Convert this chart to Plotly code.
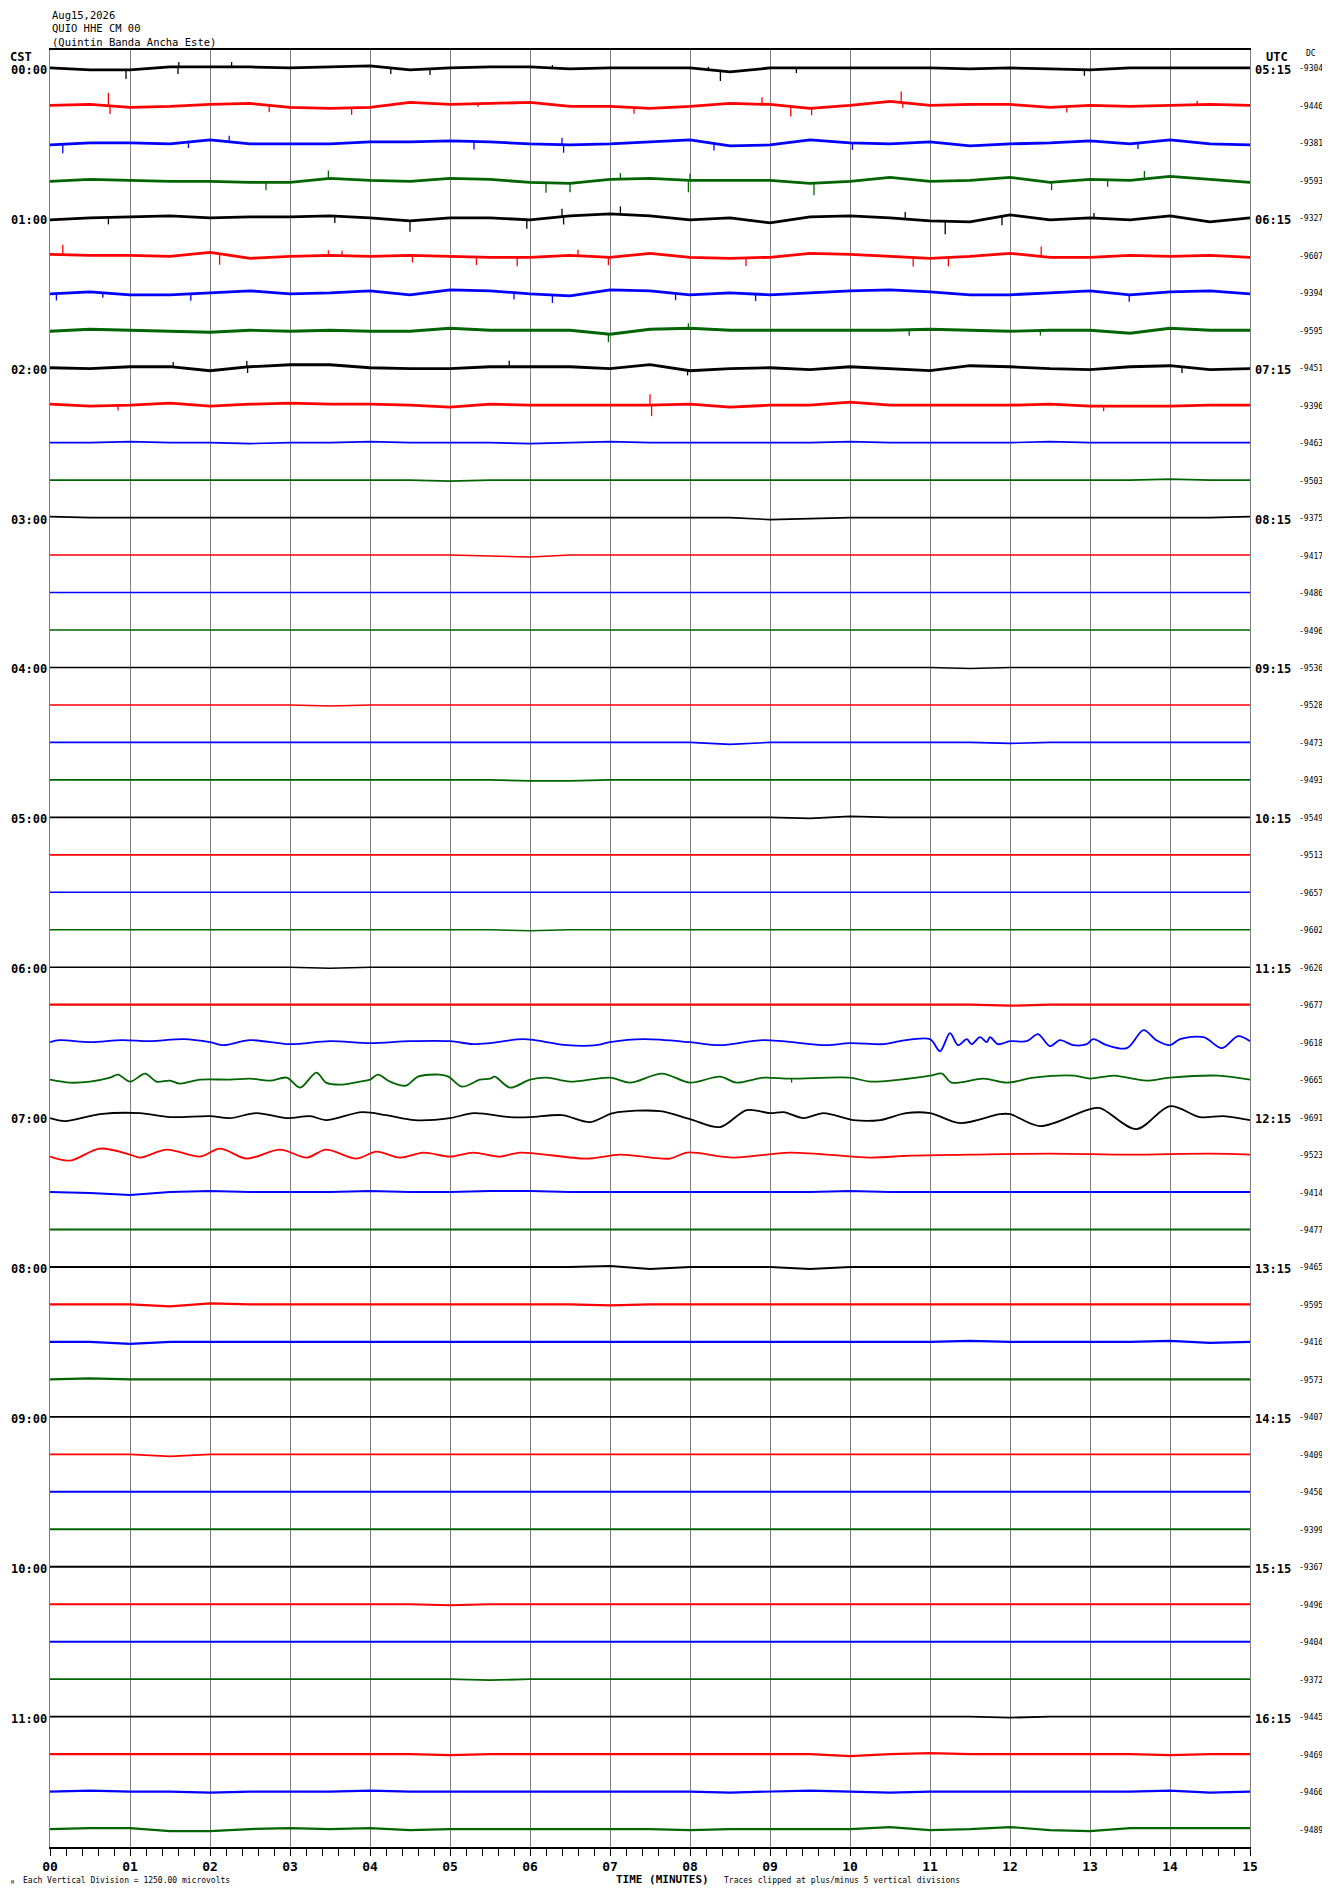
import numpy as np
import plotly.graph_objects as go

# helicorder page, QUIO HHE CM 00, 48 lines of 15 minutes
STATION_LINES = ["Aug15,2026", "QUIO HHE CM 00", "(Quintin Banda Ancha Este)"]
CST_LABELS = ["00:00", "01:00", "02:00", "03:00", "04:00", "05:00",
              "06:00", "07:00", "08:00", "09:00", "10:00", "11:00"]
UTC_LABELS = ["05:15", "06:15", "07:15", "08:15", "09:15", "10:15",
              "11:15", "12:15", "13:15", "14:15", "15:15", "16:15"]
MIN_LABELS = ["00", "01", "02", "03", "04", "05", "06", "07",
              "08", "09", "10", "11", "12", "13", "14", "15"]
DC = [-9304, -9446, -9381, -9593, -9327, -9607, -9394, -9595,
      -9451, -9396, -9463, -9503, -9375, -9417, -9486, -9496,
      -9536, -9528, -9473, -9493, -9549, -9513, -9657, -9602,
      -9620, -9677, -9618, -9665, -9691, -9523, -9414, -9477,
      -9465, -9595, -9416, -9573, -9407, -9409, -9450, -9399,
      -9367, -9496, -9404, -9372, -9445, -9469, -9466, -9489]

# trace offsets read every half minute (reference px, up = positive)
MINUTES = [0, 0.5, 1, 1.5, 2, 2.5, 3, 3.5, 4, 4.5, 5, 5.5, 6, 6.5, 7, 7.5,
           8, 8.5, 9, 9.5, 10, 10.5, 11, 11.5, 12, 12.5, 13, 13.5, 14, 14.5, 15]

TR00 = [0, -2, -2, 1, 1, 1, 0, 1, 2, -2, 0, 1, 1, -1, 0, 0, 0, -4, 0, 0, 0, 0, 0, -1, 0, -1, -2, 0, 0, 0, 0]
TR01 = [0, 1, -2, -1, 1, 2, -2, -3, -2, 3, 1, 2, 3, -1, -1, -3, -1, 2, 1, -3, 0, 4, 0, 1, 1, -2, 0, -1, 0, 1, 0]
TR02 = [-2, 0, 0, -1, 3, -1, -1, -1, 1, 1, 2, 1, -1, -2, -1, 1, 3, -3, -2, 3, 0, -1, 1, -3, -1, 0, 2, -1, 3, -1, -2]
TR03 = [-1, 1, 0, -1, -1, -2, -2, 2, 0, -1, 2, 1, -2, -3, 1, 2, 0, 0, 0, -3, -1, 3, -1, 0, 3, -2, 1, 0, 4, 1, -2]
TR04 = [-2, 0, 1, 2, 0, 1, 1, 2, 0, -3, 0, 0, -2, 2, 4, 2, -2, 0, -5, 1, 2, 0, -3, -4, 3, -2, 0, -2, 2, -4, 0]
TR05 = [1, 0, 0, -1, 3, -3, -1, 0, -1, 0, -1, -2, -2, 0, -2, 2, -2, -3, -2, 2, 1, -1, -3, -1, 2, -2, -2, 0, -1, 0, -2]
TR06 = [-1, 1, -2, -2, 0, 2, -1, 0, 2, -2, 3, 2, -1, -3, 3, 2, -2, 0, -2, 0, 2, 3, 1, -2, -2, 0, 2, -2, 1, 2, -1]
TR07 = [-1, 1, 0, -1, -2, 0, -1, 0, -1, -1, 2, 0, 0, 0, -4, 1, 2, 0, 0, 0, 0, 0, 1, 0, -1, 0, 0, -3, 2, 0, 0]
TR08 = [0, -1, 1, 1, -3, 1, 3, 3, 0, -1, -1, 1, 1, 1, -1, 3, -3, -1, 0, -2, 1, -1, -3, 2, 1, -1, -2, 1, 2, -2, -1]
TR09 = [1, -1, 0, 2, -1, 1, 2, 1, 1, 0, -2, 1, 0, 0, 0, 0, 1, -2, 0, 0, 3, 0, 0, 0, 0, 1, -1, -1, -1, 0, 0]
TR10 = [0, 0, 1, 0, 0, -1, 0, 0, 1, 0, 0, 0, -1, 0, 1, 0, 0, 0, 0, 0, 1, 0, 0, 0, 0, 1, 0, 0, 0, 0, 0]
TR11 = [0, 0, 0, 0, 0, 0, 0, 0, 0, 0, -1, 0, 0, 0, 0, 0, 0, 0, 0, 0, 0, 0, 0, 0, 0, 0, 0, 0, 1, 0, 0]
TR12 = [1, 0, 0, 0, 0, 0, 0, 0, 0, 0, 0, 0, 0, 0, 0, 0, 0, 0, -2, -1, 0, 0, 0, 0, 0, 0, 0, 0, 0, 0, 1]
TR13 = [0, 0, 0, 0, 0, 0, 0, 0, 0, 0, 0, -1, -2, 0, 0, 0, 0, 0, 0, 0, 0, 0, 0, 0, 0, 0, 0, 0, 0, 0, 0]
TR14 = [0, 0, 0, 0, 0, 0, 0, 0, 0, 0, 0, 0, 0, 0, 0, 0, 0, 0, 0, 0, 0, 0, 0, 0, 0, 0, 0, 0, 0, 0, 0]
TR15 = [0, 0, 0, 0, 0, 0, 0, 0, 0, 0, 0, 0, 0, 0, 0, 0, 0, 0, 0, 0, 0, 0, 0, 0, 0, 0, 0, 0, 0, 0, 0]
TR16 = [0, 0, 0, 0, 0, 0, 0, 0, 0, 0, 0, 0, 0, 0, 0, 0, 0, 0, 0, 0, 0, 0, 0, -1, 0, 0, 0, 0, 0, 0, 0]
TR17 = [0, 0, 0, 0, 0, 0, 0, -1, 0, 0, 0, 0, 0, 0, 0, 0, 0, 0, 0, 0, 0, 0, 0, 0, 0, 0, 0, 0, 0, 0, 0]
TR18 = [0, 0, 0, 0, 0, 0, 0, 0, 0, 0, 0, 0, 0, 0, 0, 0, 0, -2, 0, 0, 0, 0, 0, 0, -1, 0, 0, 0, 0, 0, 0]
TR19 = [0, 0, 0, 0, 0, 0, 0, 0, 0, 0, 0, 0, -1, -1, 0, 0, 0, 0, 0, 0, 0, 0, 0, 0, 0, 0, 0, 0, 0, 0, 0]
TR20 = [0, 0, 0, 0, 0, 0, 0, 0, 0, 0, 0, 0, 0, 0, 0, 0, 0, 0, 0, -1, 1, 0, 0, 0, 0, 0, 0, 0, 0, 0, 0]
TR21 = [0, 0, 0, 0, 0, 0, 0, 0, 0, 0, 0, 0, 0, 0, 0, 0, 0, 0, 0, 0, 0, 0, 0, 0, 0, 0, 0, 0, 0, 0, 0]
TR22 = [0, 0, 0, 0, 0, 0, 0, 0, 0, 0, 0, 0, 0, 0, 0, 0, 0, 0, 0, 0, 0, 0, 0, 0, 0, 0, 0, 0, 0, 0, 0]
TR23 = [0, 0, 0, 0, 0, 0, 0, 0, 0, 0, 0, 0, -1, 0, 0, 0, 0, 0, 0, 0, 0, 0, 0, 0, 0, 0, 0, 0, 0, 0, 0]
TR24 = [0, 0, 0, 0, 0, 0, 0, -1, 0, 0, 0, 0, 0, 0, 0, 0, 0, 0, 0, 0, 0, 0, 0, 0, 0, 0, 0, 0, 0, 0, 0]
TR25 = [0, 0, 0, 0, 0, 0, 0, 0, 0, 0, 0, 0, 0, 0, 0, 0, 0, 0, 0, 0, 0, 0, 0, 0, -1, 0, 0, 0, 0, 0, 0]
TR30 = [0, -1, -3, 0, 1, 0, 0, 0, 1, 0, 0, 1, 1, 0, 0, 0, 0, 0, 0, 0, 1, 0, 0, 0, 0, 0, 0, 0, 0, 0, 0]
TR31 = [0, 0, 0, 0, 0, 0, 0, 0, 0, 0, 0, 0, 0, 0, 0, 0, 0, 0, 0, 0, 0, 0, 0, 0, 0, 0, 0, 0, 0, 0, 0]
TR32 = [0, 0, 0, 0, 0, 0, 0, 0, 0, 0, 0, 0, 0, 0, 1, -2, 0, 0, 0, -2, 0, 0, 0, 0, 0, 0, 0, 0, 0, 0, 0]
TR33 = [0, 0, 0, -2, 1, 0, 0, 0, 0, 0, 0, 0, 0, 0, -1, 0, 0, 0, 0, 0, 0, 0, 0, 0, 0, 0, 0, 0, 0, 0, 0]
TR34 = [0, 0, -2, 0, 0, 0, 0, 0, 0, 0, 0, 0, 0, 0, 0, 0, 0, 0, 0, 0, 0, 0, 0, 1, 0, 0, 0, 0, 1, -1, 0]
TR35 = [0, 1, 0, 0, 0, 0, 0, 0, 0, 0, 0, 0, 0, 0, 0, 0, 0, 0, 0, 0, 0, 0, 0, 0, 0, 0, 0, 0, 0, 0, 0]
TR36 = [0, 0, 0, 0, 0, 0, 0, 0, 0, 0, 0, 0, 0, 0, 0, 0, 0, 0, 0, 0, 0, 0, 0, 0, 0, 0, 0, 0, 0, 0, 0]
TR37 = [0, 0, 0, -2, 0, 0, 0, 0, 0, 0, 0, 0, 0, 0, 0, 0, 0, 0, 0, 0, 0, 0, 0, 0, 0, 0, 0, 0, 0, 0, 0]
TR38 = [0, 0, 0, 0, 0, 0, 0, 0, 0, 0, 0, 0, 0, 0, 0, 0, 0, 0, 0, 0, 0, 0, 0, 0, 0, 0, 0, 0, 0, 0, 0]
TR39 = [0, 0, 0, 0, 0, 0, 0, 0, 0, 0, 0, 0, 0, 0, 0, 0, 0, 0, 0, 0, 0, 0, 0, 0, 0, 0, 0, 0, 0, 0, 0]
TR40 = [0, 0, 0, 0, 0, 0, 0, 0, 0, 0, 0, 0, 0, 0, 0, 0, 0, 0, 0, 0, 0, 0, 0, 0, 0, 0, 0, 0, 0, 0, 0]
TR41 = [0, 0, 0, 0, 0, 0, 0, 0, 0, 0, -1, 0, 0, 0, 0, 0, 0, 0, 0, 0, 0, 0, 0, 0, 0, 0, 0, 0, 0, 0, 0]
TR42 = [0, 0, 0, 0, 0, 0, 0, 0, 0, 0, 0, 0, 0, 0, 0, 0, 0, 0, 0, 0, 0, 0, 0, 0, 0, 0, 0, 0, 0, 0, 0]
TR43 = [0, 0, 0, 0, 0, 0, 0, 0, 0, 0, 0, -1, 0, 0, 0, 0, 0, 0, 0, 0, 0, 0, 0, 0, 0, 0, 0, 0, 0, 0, 0]
TR44 = [0, 0, 0, 0, 0, 0, 0, 0, 0, 0, 0, 0, 0, 0, 0, 0, 0, 0, 0, 0, 0, 0, 0, 0, -1, 0, 0, 0, 0, 0, 0]
TR45 = [0, 0, 0, 0, 0, 0, 0, 0, 0, 0, -1, 0, 0, 0, 0, 0, 0, 0, 0, 0, -2, 0, 1, 0, 0, 0, 0, 0, -1, 0, 0]
TR46 = [0, 1, 0, 0, -1, 0, 0, 0, 1, 0, 0, 0, 0, 0, 0, 0, 0, -1, 0, 1, 0, -1, 0, 0, 0, 0, 0, 0, 1, -1, 0]
TR47 = [0, 1, 1, -2, -2, 0, 1, 0, 1, -1, 0, 0, 0, 0, 0, 0, -1, 0, 0, 0, 0, 2, -1, 0, 2, -1, -2, 1, 1, 1, 1]

# the wavy lines around 06:30-07:15 CST, read at their turning points
T26 = [0, 0.12, 0.5, 0.9, 1.25, 1.67, 2.0, 2.17, 2.5, 3.0, 3.5, 4.0, 4.5, 5.0, 5.29, 5.5,
       5.92, 6.46, 6.83, 7.0, 7.42, 8.0, 8.375, 8.92, 9.7, 10.0, 10.42, 10.625, 11.0, 11.125,
       11.25, 11.35, 11.46, 11.52, 11.625, 11.71, 11.75, 11.85, 12.0, 12.21, 12.35, 12.5,
       12.625, 12.79, 12.96, 13.04, 13.21, 13.46, 13.67, 13.83, 14.0, 14.125, 14.42, 14.65,
       14.85, 15.0]
V26 = [0, 2, 0, 2, 1, 3, 0, -3, 2, -2, 1, -1, 1, 1, -2, -1,
       3, -3, -3, 0, 3, 0, -3, 2, -3, -1, -2, 1, 3, -9,
       9, -3, 3, -2, 5, 0, 5, -2, 1, 1, 8, -4,
       2, -3, -2, 3, -3, -6, 12, 2, -3, 3, 5, -6,
       6, 1]
T27 = [0, 0.25, 0.5, 0.75, 0.85, 1.0, 1.19, 1.33, 1.5, 1.625, 1.875, 2.25, 2.5, 2.75, 2.96,
       3.125, 3.33, 3.45, 3.625, 3.875, 4.0, 4.1, 4.25, 4.45, 4.6, 4.875, 4.98, 5.15, 5.375,
       5.5, 5.56, 5.75, 6.0, 6.21, 6.5, 7.0, 7.25, 7.65, 8.0, 8.375, 8.58, 8.92, 9.25, 10.0,
       10.25, 10.625, 11.0, 11.15, 11.27, 11.67, 11.96, 12.3, 12.8, 13.0, 13.3, 13.7, 14.0,
       14.6, 15.0]
V27 = [0, -3, -2, 2, 5, -2, 6, -2, -1, -4, 0, 0, 1, -1, 2,
       -8, 7, -3, -5, -2, 0, 5, -2, -6, 3, 5, 3, -7, 0,
       1, 3, -8, 0, 2, -2, 2, -3, 6, -3, 3, -3, 2, 1, 2,
       -2, 0, 4, 6, -3, 1, -3, 2, 4, 1, 4, -1, 2,
       4, 0]
T28 = [0, 0.19, 0.625, 1.125, 1.5, 2.0, 2.25, 2.58, 2.96, 3.25, 3.45, 3.9, 4.2, 4.56, 5.0,
       5.3, 5.75, 6.0, 6.4, 6.75, 7.04, 7.625, 8.0, 8.375, 8.71, 9.0, 9.17, 9.42, 9.67, 10.04,
       10.375, 10.7, 11.0, 11.375, 11.875, 12.0, 12.375, 12.96, 13.125, 13.58, 14.0, 14.375,
       14.67, 15.0]
V28 = [-1, -4, 3, 4, 0, 1, -1, 4, -1, 1, -3, 5, 2, -3, -1,
       4, 0, 0, 2, -5, 4, 6, -2, -10, 7, 4, 5, -1, 4, -3,
       -3, 4, 4, -6, 3, 3, -9, 7, 9, -12, 11, 0,
       1, -3]
T29 = [0, 0.25, 0.625, 1.0, 1.125, 1.46, 1.875, 2.125, 2.46, 2.875, 3.21, 3.45, 3.83, 4.08,
       4.375, 4.67, 5.0, 5.29, 5.625, 5.875, 6.71, 7.125, 7.75, 7.96, 8.54, 9.25, 10.25, 10.75,
       11.5, 12.5, 13.5, 14.5, 15.0]
V29 = [-2, -6, 6, 0, -3, 5, -2, 6, -4, 5, -3, 5, -4, 3,
       -3, 2, -2, 2, -2, 2, -4, 0, -4, 2, -3, 2, -3, -1,
       0, 1, 0, 1, 0]

# single spikes: (line, minute, amplitude)
SPIKES = [(0, 0.95, -9), (0, 1.6, -7), (0, 1.61, 5), (0, 2.27, 5), (0, 4.26, -6), (0, 4.75, -6),
          (0, 6.28, 3), (0, 8.23, 3), (0, 8.38, -10), (0, 9.33, -5), (0, 12.93, -6),
          (1, 0.73, 13), (1, 0.75, -8), (1, 2.74, -7), (1, 3.77, -7), (1, 5.35, -3), (1, 7.3, -6),
          (1, 8.9, 7), (1, 9.26, -10), (1, 9.52, -7), (1, 10.64, 11), (1, 10.66, -5),
          (1, 12.71, -6), (1, 14.34, 4),
          (2, 0.16, -9), (2, 1.73, -6), (2, 2.24, 6), (2, 5.3, -8), (2, 6.4, 7), (2, 6.42, -8),
          (2, 8.3, -7), (2, 10.03, -7), (2, 13.6, -6),
          (3, 2.7, -8), (3, 3.48, 8), (3, 6.2, -10), (3, 6.5, -9), (3, 7.13, 6), (3, 7.98, -12),
          (3, 8.0, 7), (3, 9.55, -12), (3, 12.52, -8), (3, 13.22, -7), (3, 13.68, 8),
          (4, 0.73, -7), (4, 3.56, -7), (4, 4.5, -11), (4, 5.96, -9), (4, 6.4, 8), (4, 6.42, -8),
          (4, 7.13, 8), (4, 10.69, 7), (4, 11.19, -13), (4, 11.9, -9), (4, 13.05, 5),
          (5, 0.16, 10), (5, 2.12, -11), (5, 3.48, 5), (5, 3.65, 5), (5, 4.53, -7), (5, 5.33, -8),
          (5, 5.84, -9), (5, 6.6, 6), (5, 6.98, -8), (5, 8.7, -8), (5, 10.79, -9), (5, 11.23, -9),
          (5, 12.39, 10),
          (6, 0.08, -7), (6, 0.66, -5), (6, 1.76, -7), (6, 5.8, -7), (6, 6.28, -8), (6, 7.82, -7),
          (6, 8.82, -7), (6, 13.49, -7),
          (7, 6.98, -8), (7, 7.98, 5), (7, 10.74, -6), (7, 12.38, -5),
          (8, 1.54, 5), (8, 2.46, 6), (8, 2.47, -6), (8, 5.74, 6), (8, 7.97, -5), (8, 14.15, -6),
          (9, 0.85, -5), (9, 7.5, 11), (9, 7.52, -11), (9, 13.17, -5),
          (27, 9.27, -4)]

GRID_ROWS = [TR00, TR01, TR02, TR03, TR04, TR05, TR06, TR07, TR08, TR09, TR10, TR11,
             TR12, TR13, TR14, TR15, TR16, TR17, TR18, TR19, TR20, TR21, TR22, TR23,
             TR24, TR25, None, None, None, None, TR30, TR31, TR32, TR33, TR34, TR35,
             TR36, TR37, TR38, TR39, TR40, TR41, TR42, TR43, TR44, TR45, TR46, TR47]
WAVES = {26: (T26, V26), 27: (T27, V27), 28: (T28, V28), 29: (T29, V29)}

COLORS = ["#000000", "#ff0000", "#0000ff", "#006400"]
ROW_GAP = 37.53
EDGE = 18
N = 48
# the page body adds an 8px margin, so the figure is drawn 8px smaller/shifted
OFF = 8
W, H = 1330 - 2 * OFF, 1894 - 2 * OFF
L, R, T, B = 50 - OFF, 1250 - OFF, 50 - OFF, 1850 - OFF


def line_data(i):
    if i in WAVES:
        return WAVES[i]
    return MINUTES, GRID_ROWS[i]


def lw(i):
    if i < 10:
        return 2.8
    if i in (25, 33, 34, 35, 45, 46, 47):
        return 2.2
    if i >= 30:
        return 1.9
    if 26 <= i <= 29:
        return 1.8
    return 1.6


fig = go.Figure()
for i in range(N):
    t, v = line_data(i)
    base = -i * ROW_GAP
    fig.add_trace(go.Scatter(x=t, y=[base + a for a in v], mode="lines",
                             line=dict(color=COLORS[i % 4], width=lw(i),
                                       shape="spline" if i in WAVES else "linear",
                                       smoothing=0.9),
                             hoverinfo="skip", showlegend=False))

for c in range(4):
    sx, sy = [], []
    for row, m, amp in SPIKES:
        if row % 4 != c:
            continue
        t, v = line_data(row)
        y0 = -row * ROW_GAP + float(np.interp(m, t, v))
        sx += [m, m, None]
        sy += [y0, y0 + amp, None]
    fig.add_trace(go.Scatter(x=sx, y=sy, mode="lines",
                             line=dict(color=COLORS[c], width=1.3),
                             hoverinfo="skip", showlegend=False))


# reference-page pixel -> paper coordinates
def px(x):
    return (x - OFF - L) / (R - L)


def py(y):
    return (B - (y - OFF)) / (B - T)


MONO = "DejaVu Sans Mono"
ann = []
for k, s in enumerate(STATION_LINES):
    ann.append(dict(x=px(50), y=py([15, 28, 42][k]), text=s, xanchor="left", yanchor="middle",
                    font=dict(family=MONO, size=10.5, color="black")))
ann.append(dict(x=px(8), y=py(57), text="<b>CST</b>", xanchor="left", yanchor="middle",
                font=dict(family=MONO, size=12, color="black")))
ann.append(dict(x=px(1264), y=py(57), text="<b>UTC</b>", xanchor="left", yanchor="middle",
                font=dict(family=MONO, size=12, color="black")))
ann.append(dict(x=px(1304), y=py(54), text="DC", xanchor="left", yanchor="middle",
                font=dict(family=MONO, size=8, color="black")))
for h in range(12):
    yy = -4 * h * ROW_GAP - 2
    ann.append(dict(x=px(49), y=yy, yref="y", text="<b>%s</b>" % CST_LABELS[h], xanchor="right",
                    yanchor="middle", font=dict(family=MONO, size=12, color="black")))
    ann.append(dict(x=px(1253), y=yy, yref="y", text="<b>%s</b>" % UTC_LABELS[h], xanchor="left",
                    yanchor="middle", font=dict(family=MONO, size=12, color="black")))
for i in range(N):
    ann.append(dict(x=px(1297), y=-i * ROW_GAP - 1, yref="y", text=str(DC[i]), xanchor="left",
                    yanchor="middle", font=dict(family=MONO, size=8, color="black")))
ann.append(dict(x=px(614), y=py(1883), text="<b>TIME (MINUTES)</b>", xanchor="left", yanchor="middle",
                font=dict(family=MONO, size=11, color="black")))
ann.append(dict(x=px(21), y=py(1884), text="Each Vertical Division = 1250.00 microvolts",
                xanchor="left", yanchor="middle", font=dict(family=MONO, size=8, color="black")))
ann.append(dict(x=px(722), y=py(1884), text="Traces clipped at plus/minus 5 vertical divisions",
                xanchor="left", yanchor="middle", font=dict(family=MONO, size=8, color="black")))
ann.append(dict(x=px(9), y=py(1885), text="M", xanchor="left", yanchor="middle",
                font=dict(family=MONO, size=5, color="black")))
for a in ann:
    a.setdefault("xref", "paper")
    a.setdefault("yref", "paper")
    a["showarrow"] = False

fig.update_layout(
    width=W, height=H,
    margin=dict(l=L, r=W - R, t=T, b=H - B, pad=0),
    paper_bgcolor="white", plot_bgcolor="white",
    annotations=ann,
    xaxis=dict(range=[0, 15], tickmode="array", tickvals=list(range(16)), ticktext=MIN_LABELS,
               ticks="outside", ticklen=7, tickcolor="black", tickwidth=1,
               tickfont=dict(family=MONO, size=13, color="black", weight="bold"),
               showgrid=True, gridcolor="#808080", gridwidth=1,
               showline=True, linecolor="black", linewidth=1.5, mirror=True, zeroline=False,
               minor=dict(dtick=0.2, ticks="outside", ticklen=7, tickcolor="black", showgrid=False)),
    yaxis=dict(range=[-(N - 1) * ROW_GAP - EDGE, EDGE], showticklabels=False, ticks="",
               showgrid=False, zeroline=False, showline=True, linecolor="#808080",
               linewidth=1, mirror=True),
)

fig.write_html("out.html")
